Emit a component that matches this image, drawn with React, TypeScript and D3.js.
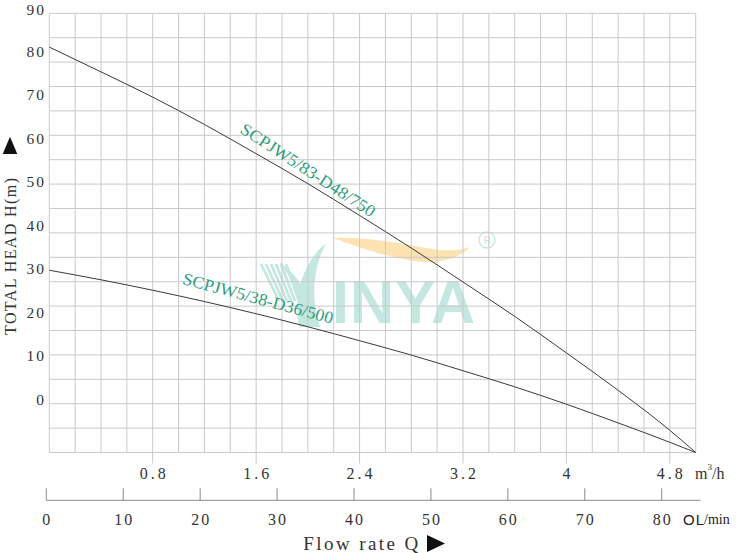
import React from "react";
import * as d3 from "d3";

// ---- data ----
const flowM3h = [0, 0.4, 0.8, 1.2, 1.6, 2.0, 2.4, 2.8, 3.2, 3.6, 4.0, 4.4, 4.8, 5.0];
const headUpper = [80.9, 75.2, 69.4, 63.1, 56.4, 49.5, 42.2, 34.7, 26.9, 19.0, 10.6, 2.0, -7.2, -12.3];
const headLower = [29.6, 27.4, 25.0, 22.4, 19.6, 16.6, 13.4, 10.1, 6.5, 2.8, -1.2, -5.5, -9.95, -12.3];
const seriesNames = ["SCPJW5/83-D48/750", "SCPJW5/38-D36/500"];
const headTicks = [0, 10, 20, 30, 40, 50, 60, 70, 80, 90];
const m3hTicks = [0.8, 1.6, 2.4, 3.2, 4, 4.8];
const lpmTicks = [0, 10, 20, 30, 40, 50, 60, 70, 80];
const gridColumns = 25;
const gridRowsCount = 18;

const W = 750;
const H = 553;

const xQ = d3.scaleLinear().domain([0, 5]).range([49.3, 695.7]);
const yH = d3.scaleLinear().domain([0, 90]).range([399, 7.5]);
const gridY = d3.scaleLinear().domain([0, gridRowsCount]).range([452.5, 13.3]);
const xL = d3.scaleLinear().domain([0, 80]).range([46.3, 661.7]);

const serif = "'Liberation Serif', 'DejaVu Serif', serif";
const sans = "'Liberation Sans', Arial, sans-serif";
const teal = "#2e9c7d";
const wm = "#c4e7df";

export default function App() {
  const line = d3
    .line<number>()
    .x((_, i) => xQ(flowM3h[i]))
    .y((d) => yH(d))
    .curve(d3.curveMonotoneX);

  const gridXs = d3.range(0, gridColumns + 1).map((i) => xQ((i * 5) / gridColumns));
  const gridYs = d3.range(0, gridRowsCount + 1).map((i) => gridY(i));
  const gTop = gridY(gridRowsCount);
  const gBot = gridY(0);
  const axisY = 500.3;

  return (
    <svg
      width={W}
      height={H}
      style={{ position: "absolute", left: 0, top: 0, background: "#fff" }}
    >
      <rect width={W} height={H} fill="#fff" />
      {/* watermark */}
      <g>
        <path
          d="M333,238 C370,236 410,246 440,250 C455,251 465,249 470,247 C462,256 445,263 425,262 C395,260 360,248 333,238 Z"
          fill="#fde3b3"
        />
        <path d="M326,243 C304,262 293,292 299,327 L320,327 C311,300 312,270 326,243 Z" fill={wm} />
        <path d="M279,262 C292,278 299,294 302,314 L309,300 C302,284 293,271 279,262 Z" fill={wm} />
        {d3.range(0, 6).map((i) => (
          <line
            key={i}
            x1={261 + i * 5}
            y1={264}
            x2={279 + i * 4}
            y2={301}
            stroke={wm}
            strokeWidth={2.8}
          />
        ))}
        <text x={332} y={323} fontFamily={sans} fontWeight="bold" fontSize={61} fill={wm} letterSpacing={1}>
          INYA
        </text>
        <circle cx={487} cy={240} r={8} fill="none" stroke={wm} strokeWidth={1.3} />
        <text
          x={487}
          y={240.5}
          fontFamily={sans}
          fontSize={10}
          fill={wm}
          textAnchor="middle"
          dominantBaseline="central"
        >
          R
        </text>
      </g>

      {/* grid */}
      <g stroke="#c9c9c9" strokeWidth={1}>
        {gridXs.map((x, i) => (
          <line key={"v" + i} x1={x} x2={x} y1={gTop} y2={gBot} />
        ))}
        {gridYs.map((y, i) => (
          <line key={"h" + i} x1={xQ(0)} x2={xQ(5)} y1={y} y2={y} />
        ))}
        {m3hTicks.map((t) => (
          <line key={"t" + t} x1={xQ(t)} x2={xQ(t)} y1={gBot} y2={gBot + 11} />
        ))}
      </g>

      {/* curves */}
      <path d={line(headUpper) || ""} fill="none" stroke="#3a3a3a" strokeWidth={1} />
      <path d={line(headLower) || ""} fill="none" stroke="#3a3a3a" strokeWidth={1} />

      {/* curve labels */}
      <text
        transform={`translate(${xQ(2.0)},${yH(52.6)}) rotate(33)`}
        textAnchor="middle"
        dominantBaseline="central"
        fontFamily={serif}
        fontSize={17}
        fill={teal}
        textLength={157}
        lengthAdjust="spacingAndGlyphs"
      >
        {seriesNames[0]}
      </text>
      <text
        transform={`translate(${xQ(1.615)},${yH(23.1)}) rotate(15)`}
        textAnchor="middle"
        dominantBaseline="central"
        fontFamily={serif}
        fontSize={17}
        fill={teal}
        textLength={155}
        lengthAdjust="spacingAndGlyphs"
      >
        {seriesNames[1]}
      </text>

      {/* y axis labels */}
      {headTicks.map((v) => (
        <text
          key={"y" + v}
          x={44}
          y={Math.max(yH(v), 9.5)}
          dx={2}
          textAnchor="end"
          dominantBaseline="central"
          fontFamily={serif}
          fontSize={15.5}
          letterSpacing={2}
          fill="#333"
        >
          {v}
        </text>
      ))}
      <path d="M2.7,154 L10,136.7 L17.3,154 Z" fill="#111" />
      <text
        transform="translate(10,256.5) rotate(-90)"
        textAnchor="middle"
        dominantBaseline="central"
        fontFamily={serif}
        fontSize={16}
        fill="#333"
        textLength={157}
        lengthAdjust="spacing"
      >
        TOTAL HEAD H(m)
      </text>

      {/* m3/h labels */}
      {m3hTicks.map((v) => (
        <text
          key={"q" + v}
          x={xQ(v)}
          y={473.3}
          dx={1.5}
          textAnchor="middle"
          dominantBaseline="central"
          fontFamily={serif}
          fontSize={16}
          letterSpacing={3}
          fill="#333"
        >
          {String(v)}
        </text>
      ))}
      <text x={695} y={473.3} dominantBaseline="central" fontFamily={serif} fontSize={16} fill="#333">
        m
        <tspan fontSize={9} dy={-6}>
          3
        </tspan>
        <tspan dy={6}>/h</tspan>
      </text>

      {/* L/min axis */}
      <line x1={xL(0)} x2={xL(85.06)} y1={axisY} y2={axisY} stroke="#8a8a8a" strokeWidth={1} />
      {lpmTicks.map((v) => (
        <line key={"lt" + v} x1={xL(v)} x2={xL(v)} y1={axisY - 12} y2={axisY} stroke="#8a8a8a" strokeWidth={1} />
      ))}
      {lpmTicks.map((v) => (
        <text
          key={"l" + v}
          x={xL(v)}
          y={519}
          dx={1}
          textAnchor="middle"
          dominantBaseline="central"
          fontFamily={serif}
          fontSize={16}
          letterSpacing={2}
          fill="#333"
        >
          {v}
        </text>
      ))}
      <text x={683} y={519} dominantBaseline="central" fill="#222">
        <tspan fontFamily={sans} fontSize={15}>
          O
        </tspan>
        <tspan fontFamily={sans} fontSize={15} dx={1}>
          L
        </tspan>
        <tspan fontFamily={serif} fontSize={14}>
          /min
        </tspan>
      </text>

      {/* x title */}
      <text
        x={303.3}
        y={549.5}
        fontFamily={serif}
        fontSize={19}
        fill="#333"
        textLength={115}
        lengthAdjust="spacing"
      >
        Flow rate Q
      </text>
      <path d="M427,535 L445,543.5 L427,552 Z" fill="#111" />
    </svg>
  );
}
